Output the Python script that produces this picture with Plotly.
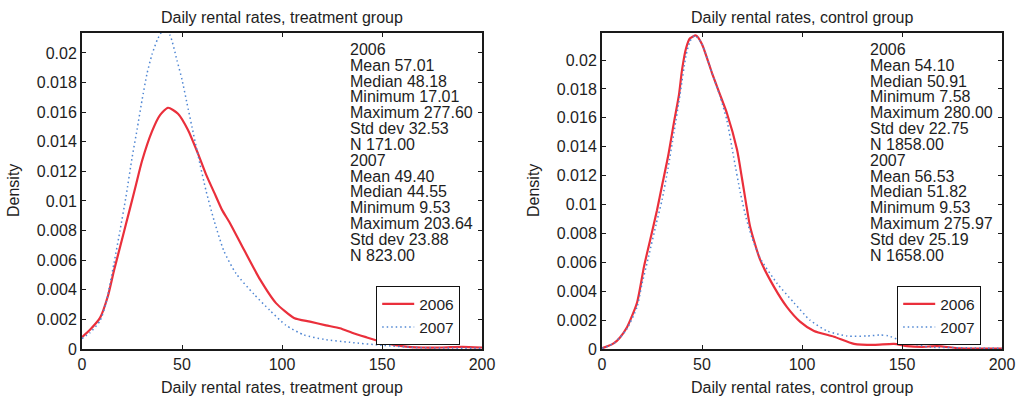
import plotly.graph_objects as go

# ---------------- data ----------------
TRT_X06 = [0, 4, 9, 13, 16, 20, 24, 27, 30, 35, 39, 43, 48, 53, 58, 62, 66, 70, 74, 81, 89, 97, 106, 114, 122, 129, 135, 142, 152, 160, 170, 180, 190, 200]
TRT_Y06 = [0.0008, 0.0013, 0.0021, 0.0036, 0.0053, 0.0074, 0.0095, 0.0111, 0.0127, 0.0147, 0.0158, 0.0163, 0.0159, 0.0148, 0.0132, 0.0118, 0.0106, 0.0094, 0.0085, 0.0067, 0.0047, 0.0031, 0.0021, 0.00185, 0.0016, 0.0014, 0.0011, 0.0008, 0.0004, 0.0002, 0.0001, 0.0001, 0.00015, 0.0001]

TRT_X07 = [0, 4, 9, 12, 16, 19, 22, 25, 27.5, 30, 32.5, 35, 38, 41, 44, 47.5, 50, 52.5, 55, 58, 62, 66, 71, 77, 86, 94, 102, 111, 121, 134, 150, 167, 185, 200]
TRT_Y07 = [0.0007, 0.0011, 0.0019, 0.0031, 0.0058, 0.0080, 0.0103, 0.0129, 0.0148, 0.0168, 0.0186, 0.0199, 0.0210, 0.0216, 0.0212, 0.0195, 0.0182, 0.0166, 0.0150, 0.0131, 0.0107, 0.0087, 0.0066, 0.0051, 0.0037, 0.0026, 0.0016, 0.00095, 0.00065, 0.00045, 0.00025, 0.0001, 0.00006, 0.00005]

CTL_X06 = [0, 3, 6, 9, 12.5, 17.5, 21, 24, 27.5, 30, 33, 36, 38.5, 40, 42, 44, 47, 50, 55, 59, 62.5, 67.5, 70, 72, 74, 79, 86, 92.5, 99, 106, 116, 126, 136, 146, 152.5, 160, 167.5, 179, 190, 200]
CTL_Y06 = [0.00005, 0.0002, 0.0004, 0.0008, 0.0015, 0.0032, 0.0057, 0.0075, 0.0096, 0.0113, 0.0133, 0.0157, 0.0176, 0.0193, 0.0208, 0.0215, 0.0217, 0.0211, 0.0191, 0.0176, 0.0163, 0.0138, 0.0118, 0.0101, 0.0085, 0.0062, 0.0043, 0.0029, 0.0019, 0.00125, 0.00085, 0.00035, 0.00028, 0.00035, 0.0002, 0.00015, 0.0002, 0.00005, 0.00003, 0.00002]

CTL_X07 = [0, 3, 6, 9, 12.5, 17.5, 20, 23.3, 27, 30, 33, 36, 39, 42, 44, 46.5, 50, 55, 59, 62.5, 65.8, 69.2, 72, 75, 79, 87.5, 96, 104, 112.5, 122.5, 132.5, 139, 143, 149, 154, 164, 175, 190, 200]
CTL_Y07 = [0.00005, 0.0002, 0.0004, 0.0008, 0.0014, 0.0029, 0.0045, 0.0064, 0.0086, 0.0103, 0.0125, 0.0150, 0.0176, 0.0203, 0.0213, 0.0217, 0.0211, 0.0191, 0.0175, 0.0158, 0.0133, 0.0108, 0.0091, 0.0077, 0.0063, 0.00455, 0.0032, 0.0020, 0.00125, 0.0009, 0.0009, 0.00097, 0.00092, 0.0006, 0.0004, 0.00013, 0.0001, 0.00006, 0.00005]

SERIES_NAMES = ["2006", "2007"]
X_TICKS = [0, 50, 100, 150, 200]
Y_TICKS = [0, 0.002, 0.004, 0.006, 0.008, 0.01, 0.012, 0.014, 0.016, 0.018, 0.02]
Y_TICK_LABELS = ["0", "0.002", "0.004", "0.006", "0.008", "0.01", "0.012", "0.014", "0.016", "0.018", "0.02"]

TRT_STATS = ["2006", "Mean 57.01", "Median 48.18", "Minimum 17.01", "Maximum 277.60", "Std dev 32.53", "N 171.00",
             "2007", "Mean 49.40", "Median 44.55", "Minimum 9.53", "Maximum 203.64", "Std dev 23.88", "N 823.00"]
CTL_STATS = ["2006", "Mean 54.10", "Median 50.91", "Minimum 7.58", "Maximum 280.00", "Std dev 22.75", "N 1858.00",
             "2007", "Mean 56.53", "Median 51.82", "Minimum 9.53", "Maximum 275.97", "Std dev 25.19", "N 1658.00"]

TITLES = ["Daily rental rates, treatment group", "Daily rental rates, control group"]
Y_TITLE = "Density"

# ---------------- style ----------------
W, H = 1020, 396
FONT = "Liberation Sans, Arial, Helvetica, sans-serif"
RED = "#ea2f3b"
BLUE = "#4f86d3"
AX = "#1a1a1a"
TXT = "#1e1e1e"

def px_x(p):
    return p / W

def px_y(p):
    return 1 - p / H

fig = go.Figure()

red_line = dict(color=RED, width=2.2, shape="spline", smoothing=0.6)
blue_line = dict(color=BLUE, width=1.5, dash="1.5px,3px", shape="spline", smoothing=0.6)

fig.add_trace(go.Scatter(x=TRT_X06, y=TRT_Y06, name=SERIES_NAMES[0], mode="lines", line=red_line,
                         xaxis="x", yaxis="y", legend="legend"))
fig.add_trace(go.Scatter(x=TRT_X07, y=TRT_Y07, name=SERIES_NAMES[1], mode="lines", line=blue_line,
                         xaxis="x", yaxis="y", legend="legend"))
fig.add_trace(go.Scatter(x=CTL_X06, y=CTL_Y06, name=SERIES_NAMES[0], mode="lines", line=red_line,
                         xaxis="x2", yaxis="y2", legend="legend2"))
fig.add_trace(go.Scatter(x=CTL_X07, y=CTL_Y07, name=SERIES_NAMES[1], mode="lines", line=blue_line,
                         xaxis="x2", yaxis="y2", legend="legend2"))

top, bottom = 33, 349
ydom = [px_y(bottom), px_y(top)]

axis_common = dict(showline=True, linecolor=AX, linewidth=2, mirror="ticks", ticks="inside",
                   ticklen=4, tickwidth=1.2, tickcolor=AX, showgrid=False, zeroline=False,
                   automargin=False,
                   tickfont=dict(family=FONT, size=16, color=TXT))

legend_common = dict(xanchor="left", yanchor="top", bordercolor="#111", borderwidth=1.2, bgcolor="white",
                     font=dict(family=FONT, size=15.5, color=TXT), tracegroupgap=0, itemwidth=32)

fig.update_layout(
    template="none",
    width=W, height=H,
    margin=dict(l=0, r=0, t=0, b=0, autoexpand=False),
    paper_bgcolor="white", plot_bgcolor="white",
    font=dict(family=FONT, size=16, color=TXT),
    xaxis=dict(domain=[px_x(82), px_x(482)], range=[0, 200], tickvals=X_TICKS, anchor="y", **axis_common),
    yaxis=dict(domain=ydom, range=[0, 0.02135], tickvals=Y_TICKS, ticktext=Y_TICK_LABELS, anchor="x", **axis_common),
    xaxis2=dict(domain=[px_x(602), px_x(1002)], range=[0, 200], tickvals=X_TICKS, anchor="y2", **axis_common),
    yaxis2=dict(domain=ydom, range=[0, 0.02187], tickvals=Y_TICKS, ticktext=Y_TICK_LABELS, anchor="x2", **axis_common),
    legend=dict(x=px_x(376), y=px_y(286), **legend_common),
    legend2=dict(x=px_x(897), y=px_y(286), **legend_common),
)

annotations = []
for title, x0, x1 in [(TITLES[0], 82, 482), (TITLES[1], 602, 1002)]:
    cx = px_x((x0 + x1) / 2)
    annotations.append(dict(text=title, x=cx, y=px_y(18), xref="paper", yref="paper",
                            xanchor="center", yanchor="middle", showarrow=False,
                            font=dict(family=FONT, size=16, color=TXT)))
    annotations.append(dict(text=title, x=cx, y=px_y(387), xref="paper", yref="paper",
                            xanchor="center", yanchor="middle", showarrow=False,
                            font=dict(family=FONT, size=16, color=TXT)))
    annotations.append(dict(text=Y_TITLE, x=px_x(x0 - 68), y=px_y(191), xref="paper", yref="paper",
                            xanchor="center", yanchor="middle", showarrow=False, textangle=-90,
                            font=dict(family=FONT, size=16, color=TXT)))

for stats, xleft in [(TRT_STATS, 348), (CTL_STATS, 868)]:
    for i, line in enumerate(stats):
        annotations.append(dict(text=line, x=px_x(xleft), y=px_y(49.3 + i * 15.85), xref="paper", yref="paper",
                                xanchor="left", yanchor="middle", showarrow=False,
                                font=dict(family=FONT, size=16, color=TXT)))

fig.update_layout(annotations=annotations)

fig.write_html("out.html",
               config={"displayModeBar": False},
               post_script="document.body.style.margin='0px';document.body.style.padding='0px';"
                           "document.body.style.overflow='hidden';")
